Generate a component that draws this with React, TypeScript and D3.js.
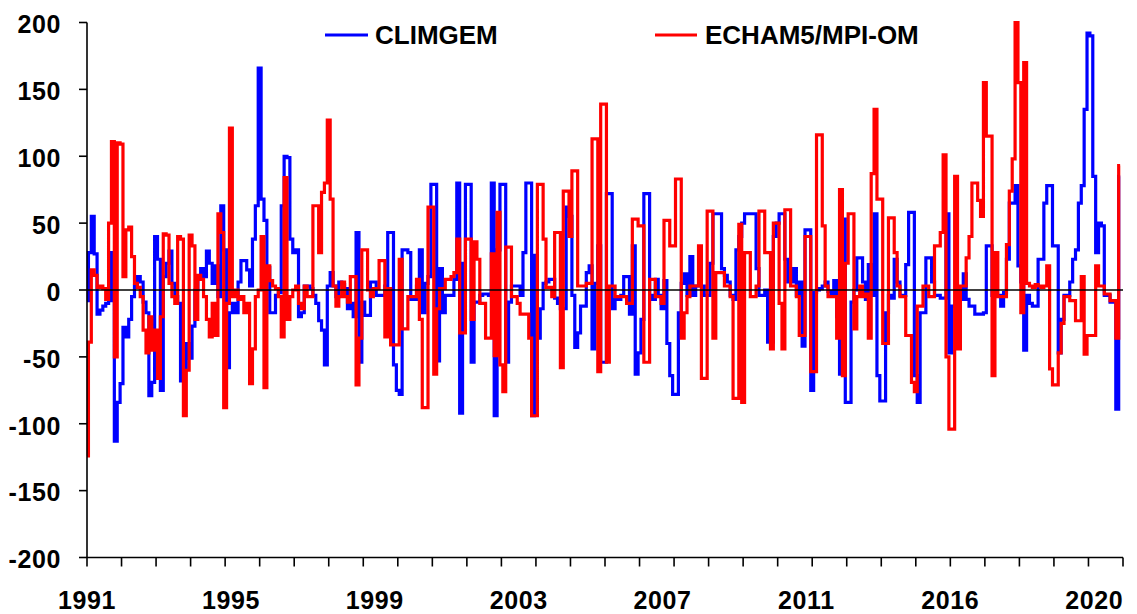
import React from 'react';
import * as d3 from 'd3';

// Monthly values, Jan 1991 – Dec 2020 (one row per year)
const climgem: number[] = [
  -8, 28, 55, 27, -18, -15, -12, -10, -8, 28, -113, -84,
  -70, -28, -35, -22, -5, 3, 10, 6, -9, -17, -79, -69,
  40, 23, -75, 10, 20, 29, 5, -5, -10, -68, -60, -40,
  -51, -27, 0, 8, 16, 10, 29, 20, 5, 18, -5, 63,
  30, -58, -17, -10, -17, 6, 22, 22, 15, 3, 38, 63,
  166, 68, 52, 17, -17, -17, -4, -2, 63, 100, 99, 38,
  28, 30, -20, -17, 3, 3, 1, -4, -10, -23, -30, -56,
  3, 13, 3, -5, 6, 4, 1, -14, -10, -20, 43, -54,
  -9, -19, -19, 6, 6, -4, -4, -4, 3, 43, 43, -56,
  -75, -78, 30, 30, 28, -7, -7, 3, 30, -17, 5, 10,
  79, 79, -53, 16, -17, -4, -4, -4, 8, 80, -92, 20,
  79, 79, -54, -9, -9, -4, -3, -3, -4, 80, -94, 30,
  79, 79, -54, -9, 3, 3, 3, -4, 28, 80, 80, -94,
  26, -36, -14, 5, 6, 8, 8, -6, -10, -14, -14, 62,
  55, -4, -43, -32, -12, -12, 13, 18, -44, 5, 33, -54,
  -54, 72, 72, -14, -7, -7, -4, 10, 10, -18, 33, -63,
  -47, -22, 72, 72, -4, -7, 8, -4, -14, 7, -40, -64,
  -78, -78, -17, 5, 12, -4, 25, -4, 3, 3, 3, -4,
  -4, 20, 57, 57, 57, 16, 11, 6, -4, -7, 30, 40,
  50, 57, 57, 57, 57, 16, -4, -4, 0, -39, -39, 40,
  50, 57, 57, 23, 6, 6, 16, -4, 6, -42, 45, 45,
  -75, -2, 0, 1, 3, 6, -1, -4, 7, -20, -63, 53,
  -84, -84, -9, 0, 24, 24, 6, -7, 19, -4, 57, -64,
  -83, -83, -17, -4, -6, 23, 6, -4, -4, 19, 58, 58,
  -64, -84, -17, -17, 24, 24, 6, -4, -4, -6, -6, 57,
  -47, -12, -12, -7, -7, 12, -7, -12, -12, -18, -18, -18,
  -17, 33, 33, -4, -4, -4, -12, -2, 23, 65, 65, 78,
  18, 6, -45, -4, -10, -12, -12, 23, 23, 65, 78, 78,
  33, 33, -47, -22, -4, -4, 6, 23, 30, 65, 78, 135,
  192, 190, 85, 28, 50, 48, -4, -4, -9, -9, -89, 85,
];

const echam: number[] = [
  -124, -39, 15, 11, 2, 3, 1, -7, 50, 111, -50, 110,
  109, 10, 45, 47, 25, 5, 2, -5, -30, -47, -20, -45,
  -30, -66, -20, 42, 41, 5, -5, -10, 40, 38, -94, -60,
  41, 33, -22, 11, 8, -5, -22, -35, -10, -34, 57, 43,
  -88, -10, 121, -5, 0, -7, -5, -17, -10, -70, -44, -5,
  0, 40, -73, 18, 7, 3, 1, -5, -35, 84, -22, -5,
  0, 3, -10, -14, 3, -5, -5, 63, 63, 28, 73, 80,
  127, 68, 3, -12, -5, 6, -5, -9, 10, 10, -71, -36,
  30, 30, 0, -5, 1, 1, 22, 22, -35, 1, -41, -41,
  -41, 23, -29, -29, -5, -5, -5, 8, -22, -88, -88, 62,
  62, -63, -14, 1, 1, 8, 8, 10, 13, 38, -32, -32,
  38, 38, -22, 36, 23, -10, -10, -36, -36, 27, -49, 58,
  -56, -76, 32, 32, -5, -5, -10, -18, -18, -18, -36, -94,
  -94, 79, 79, 38, 2, 2, -5, 43, 43, -58, 74, 74,
  40, 89, 89, 3, 3, 3, 5, 5, 113, 113, -61, 139,
  139, -54, 3, 3, -5, -5, -5, -5, -10, -10, 53, 53,
  48, 48, -54, -54, 8, 8, -5, -5, -10, 52, 52, 33,
  33, 83, 83, -36, -17, -5, 3, 3, 3, 33, -66, -66,
  59, 59, -36, 13, 13, 13, 3, 3, -5, -81, -81, 49,
  -84, 28, 28, -5, -5, 3, 59, 59, 28, 28, -44, 50,
  50, -10, -44, 60, 60, 3, 3, -5, -34, -34, 40, 40,
  -61, -61, 116, 116, 48, 3, -5, -5, -5, -36, 75, -64,
  20, 57, 57, -29, -5, 3, -5, -3, -36, 87, 135, 68,
  68, -40, -40, 54, 54, 28, 3, -5, -5, -34, -34, -69,
  -76, -12, -12, 3, 3, -5, -5, 33, 33, 43, 101, -50,
  -104, -104, 85, -44, 3, 3, 24, 40, 80, 80, 67, 55,
  155, 115, 115, -64, 28, -5, -5, -5, 34, 74, 98, 200,
  155, -17, 170, 5, 3, 2, 4, 3, 2, 3, 18, -59,
  -71, -71, -47, -25, -5, -5, -8, -8, -23, -23, 10, -48,
  -34, -34, -34, 18, 3, 3, -3, -3, -8, -8, -36, 93,
];

const yTicks = [-200, -150, -100, -50, 0, 50, 100, 150, 200];
const xLabels = ['1991', '1995', '1999', '2003', '2007', '2011', '2016', '2020'];
const seriesNames = ['CLIMGEM', 'ECHAM5/MPI-OM'];
const seriesColors = ['#0000FF', '#FF0000'];

const LABEL_STEP = 50;
const TICK_STEP = 12;
const N_SLOTS = 360;

export default function App() {
  const W = 1137;
  const H = 614;
  const x = d3.scaleLinear().domain([0, N_SLOTS]).range([87, 1123]);
  const y = d3.scaleLinear().domain([-200, 200]).range([557.5, 22.5]);
  const line = d3
    .line<number>()
    .x((_, i) => x(i))
    .y((d) => y(d))
    .curve(d3.curveStep);

  const font = '"Liberation Sans", Arial, Helvetica, sans-serif';
  const xTickIdx = d3.range(0, N_SLOTS + 1, TICK_STEP);

  return (
    <svg
      width={W}
      height={H}
      style={{ position: 'absolute', left: 0, top: 0, background: '#fff' }}
      fontFamily={font}
    >
      <rect x={0} y={0} width={W} height={H} fill="#fff" />
      {/* series */}
      <path d={line(climgem) || ''} fill="none" stroke={seriesColors[0]} strokeWidth={3.2} strokeLinejoin="miter" />
      <path d={line(echam) || ''} fill="none" stroke={seriesColors[1]} strokeWidth={3.2} strokeLinejoin="miter" />

      {/* zero line */}
      <line x1={x(0)} x2={x(N_SLOTS)} y1={y(0)} y2={y(0)} stroke="#000" strokeWidth={1.6} />

      {/* y axis */}
      <line x1={x(0)} x2={x(0)} y1={y(200)} y2={y(-200)} stroke="#000" strokeWidth={1.6} />
      {yTicks.map((t) => (
        <g key={t}>
          <line x1={x(0) - 8} x2={x(0)} y1={y(t)} y2={y(t)} stroke="#000" strokeWidth={1.6} />
          <text
            x={61}
            y={y(t) + 2}
            dy="0.35em"
            textAnchor="end"
            fontSize={25}
            fontWeight="bold"
            letterSpacing={0.6}
            fill="#000"
          >
            {t}
          </text>
        </g>
      ))}

      {/* x axis */}
      <line x1={x(0)} x2={x(N_SLOTS)} y1={y(-200)} y2={y(-200)} stroke="#000" strokeWidth={1.6} />
      {xTickIdx.map((i) => (
        <line key={i} x1={x(i)} x2={x(i)} y1={y(-200)} y2={y(-200) + 9} stroke="#000" strokeWidth={1.6} />
      ))}
      {xLabels.map((lab, k) => (
        <text
          key={lab}
          x={x(k * LABEL_STEP)}
          y={609}
          textAnchor="middle"
          fontSize={25}
          fontWeight="bold"
          letterSpacing={0.6}
          fill="#000"
        >
          {lab}
        </text>
      ))}

      {/* legend */}
      <line x1={325} x2={368} y1={35} y2={35} stroke={seriesColors[0]} strokeWidth={3} />
      <text x={375} y={44} fontSize={26} fontWeight="bold" fill="#000">
        {seriesNames[0]}
      </text>
      <line x1={655} x2={697} y1={35} y2={35} stroke={seriesColors[1]} strokeWidth={3} />
      <text x={705} y={44} fontSize={26} fontWeight="bold" fill="#000">
        {seriesNames[1]}
      </text>
    </svg>
  );
}
